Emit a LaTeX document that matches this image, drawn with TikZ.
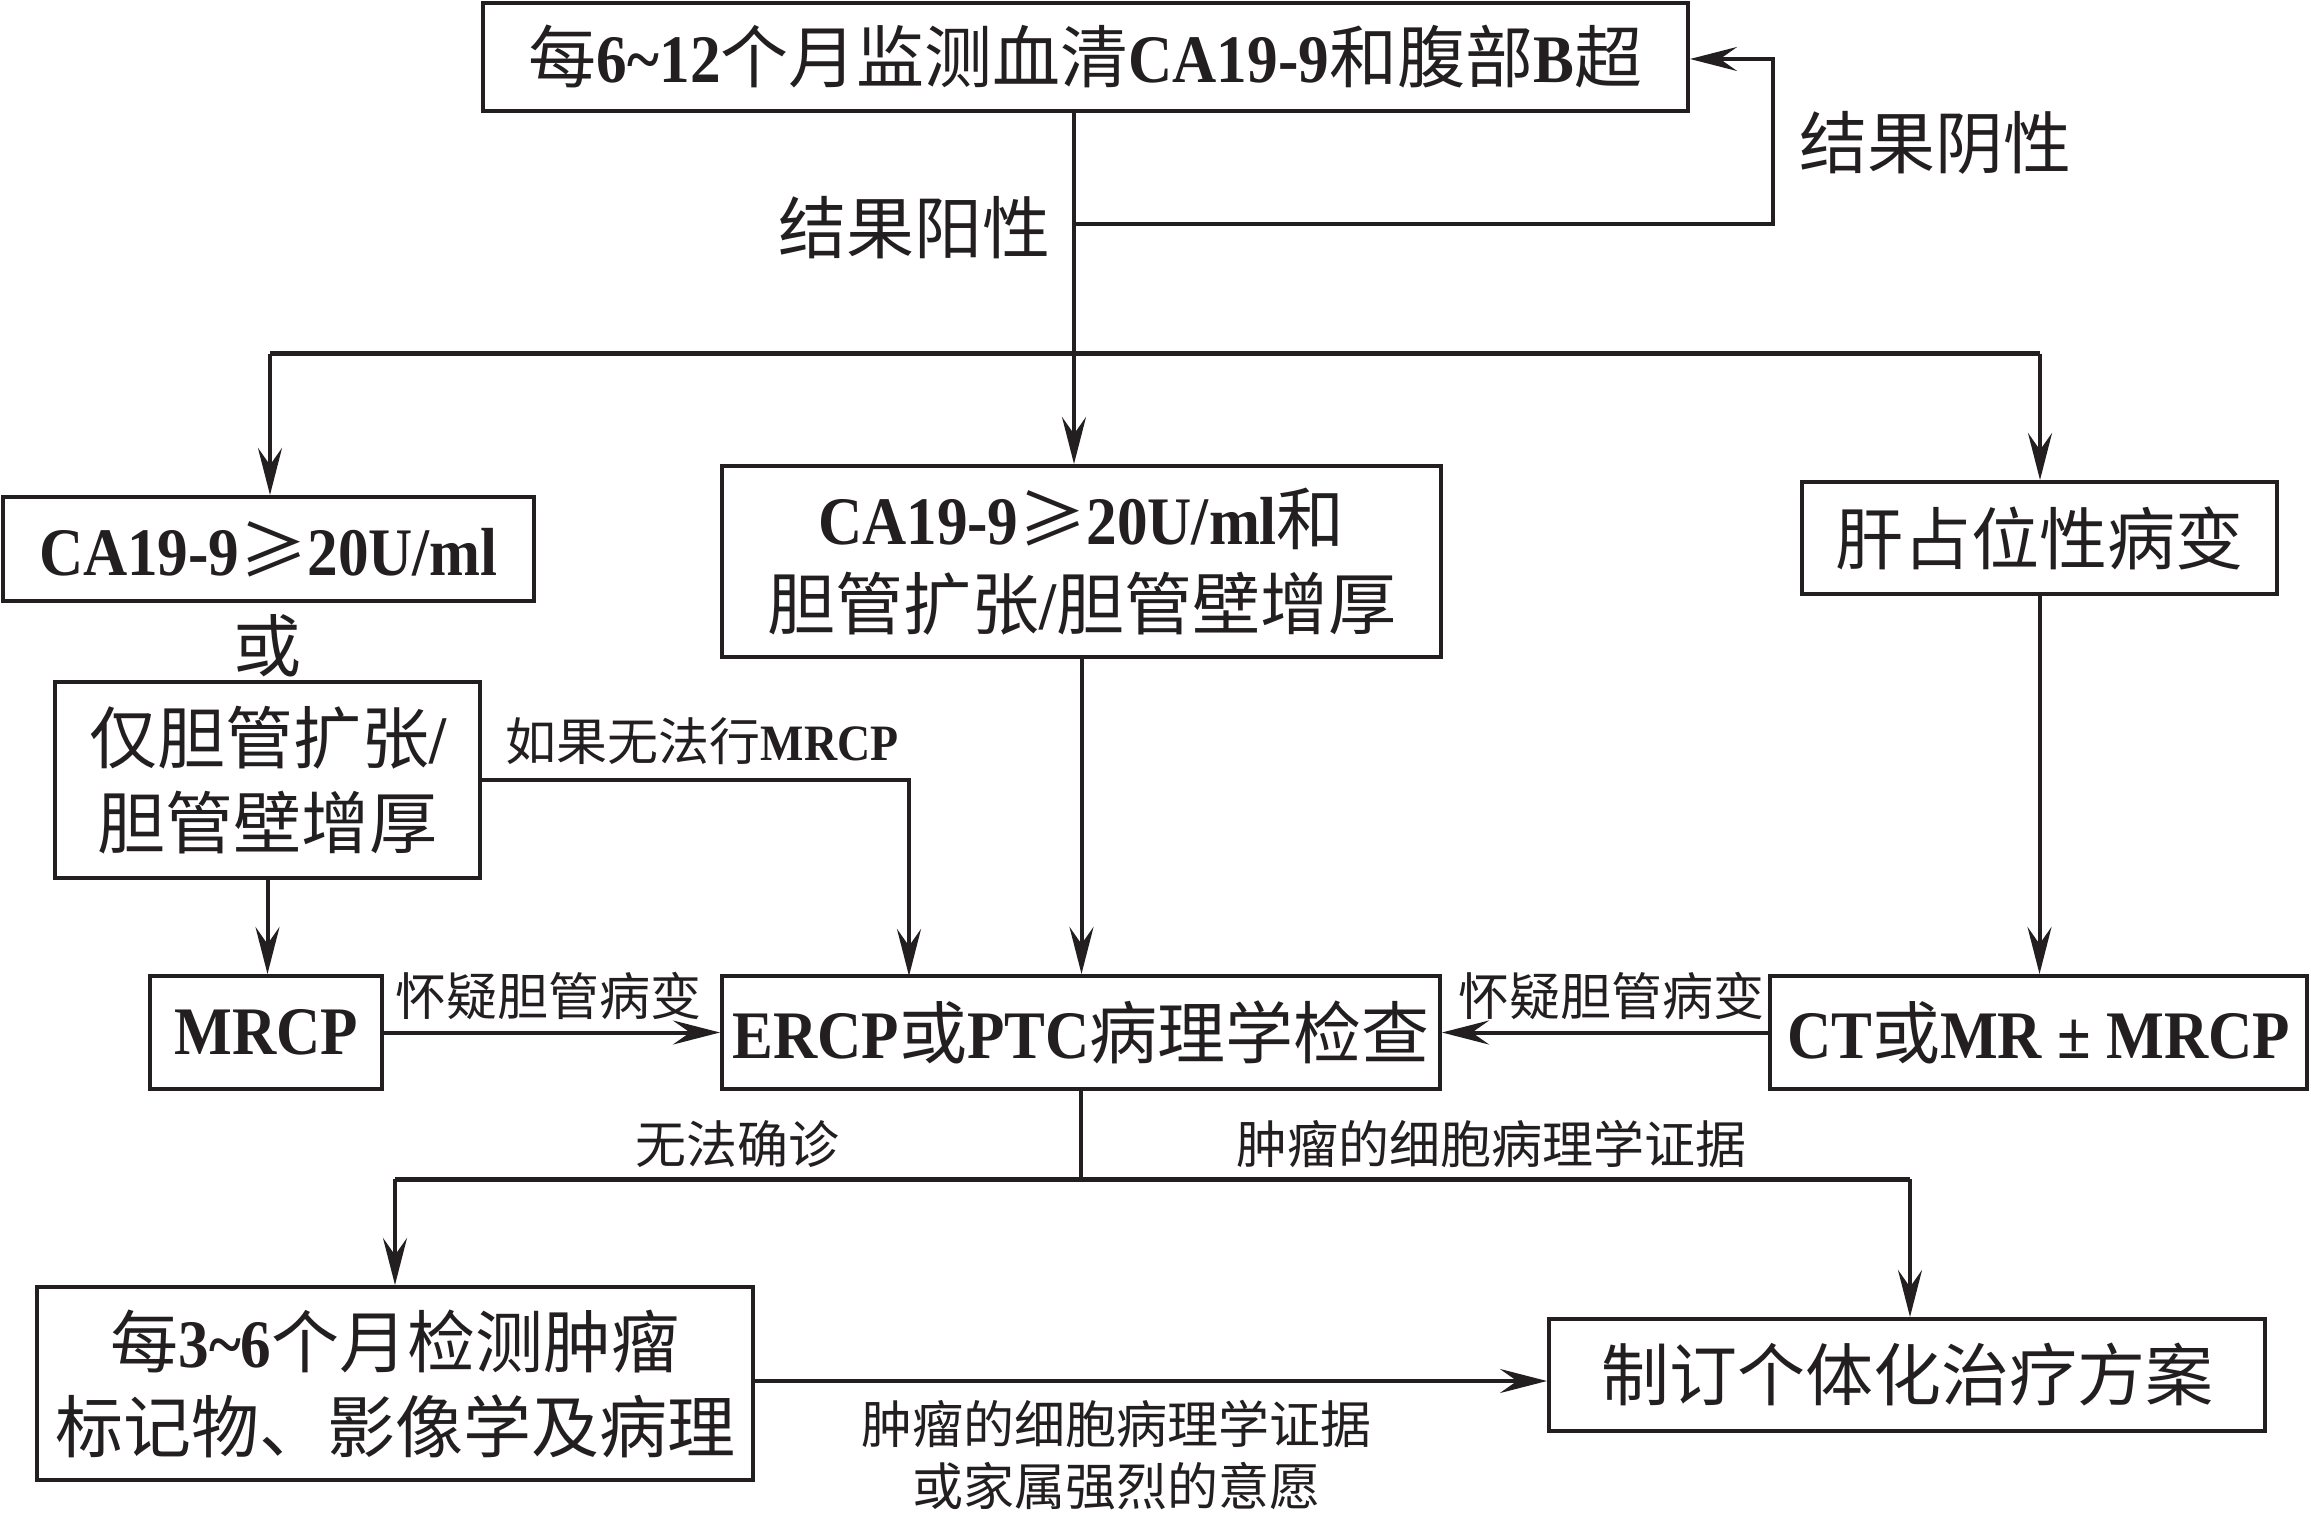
\documentclass[tikz,border=0pt]{standalone}
\usepackage{fontspec}
\setmainfont{Liberation Serif}[FakeStretch=0.9]
\newfontfamily\cjk{Noto Sans CJK SC}
\usetikzlibrary{arrows.meta}
\definecolor{ink}{RGB}{35,31,32}
\newcommand\Z[1]{{\cjk\mdseries #1}}
\begin{document}
\begin{tikzpicture}[x=0.5pt,y=-0.5pt,
  box/.style={draw=ink, line width=2pt, inner sep=0pt, align=center, text=ink,
    font=\bfseries\fontsize{34}{42.5}\selectfont},
  bigtxt/.style={text=ink, inner sep=0pt, font=\fontsize{34}{42}\selectfont},
  smalltxt/.style={text=ink, inner sep=0pt, align=center, font=\bfseries\fontsize{25.5}{31}\selectfont},
  conn/.style={draw=ink, line width=2pt},
  arr/.style={conn, -{Stealth[length=23.5pt, width=12pt, inset=8.5pt]}}]
\useasboundingbox (0,0) rectangle (2311,1513);
% boxes
\node[box, minimum width=602.5pt, minimum height=54pt] (top) at (1085.5,57)
  {\Z{每}6\textasciitilde12\Z{个月监测血清}CA19-9\Z{和腹部}B\Z{超}};
\node[box, minimum width=265.5pt, minimum height=52pt] (bA) at (268.5,549)
  {CA19-9\Z{≥}20U/ml};
\node[box, minimum width=212.5pt, minimum height=98pt] (bB) at (267.5,780)
  {\Z{仅胆管扩张}/\\\Z{胆管壁增厚}};
\node[box, minimum width=359.5pt, minimum height=95.5pt] (bC) at (1081.5,561.5)
  {CA19-9\Z{≥}20U/ml\Z{和}\\\Z{胆管扩张}/\Z{胆管壁增厚}};
\node[box, minimum width=237.5pt, minimum height=56pt] (bD) at (2039.5,538)
  {\Z{肝占位性病变}};
\node[box, minimum width=116pt, minimum height=56.5pt] (mrcp) at (266,1032.5)
  {MRCP};
\node[box, minimum width=359pt, minimum height=56.5pt] (ercp) at (1081,1032.5)
  {ERCP\Z{或}PTC\Z{病理学检查}};
\node[box, minimum width=268.5pt, minimum height=56.5pt] (ct) at (2038.5,1032.5)
  {CT\Z{或}MR ± MRCP};
\node[box, minimum width=358pt, minimum height=96.5pt] (bE) at (395,1383.5)
  {\Z{每}3\textasciitilde6\Z{个月检测肿瘤}\\\Z{标记物、影像学及病理}};
\node[box, minimum width=358pt, minimum height=56pt] (bF) at (1907,1375)
  {\Z{制订个体化治疗方案}};
% labels
\node[bigtxt] (lneg) at (1935,143) {\Z{结果阴性}};
\node[bigtxt] (lpos) at (914,228) {\Z{结果阳性}};
\node[bigtxt] (lor) at (267,646) {\Z{或}};
\node[smalltxt] (lnomrcp) at (702,741) {\Z{如果无法行}MRCP};
\node[smalltxt] (lsus1) at (548,996) {\Z{怀疑胆管病变}};
\node[smalltxt] (lsus2) at (1611,996) {\Z{怀疑胆管病变}};
\node[smalltxt] (lnodx) at (737,1144) {\Z{无法确诊}};
\node[smalltxt] (lcyto) at (1491,1144) {\Z{肿瘤的细胞病理学证据}};
\node[smalltxt] (lbot) at (1116,1455) {\Z{肿瘤的细胞病理学证据}\\\Z{或家属强烈的意愿}};
% junction coordinates
\coordinate (j1) at (1074,354);
\coordinate (jL) at (270,354);
\coordinate (jR) at (2040,354);
\coordinate (fb1) at (1074,224);
\coordinate (fb2) at (1773,224);
\coordinate (fb3) at (1773,59);
\coordinate (m1) at (909,976);
\coordinate (j2) at (1083,1179);
\coordinate (j2L) at (395,1179);
\coordinate (j2R) at (1910,1179);
\coordinate (f1) at (0,1381);
% connectors
\draw[conn] (top.south -| j1) -- (j1);
\draw[arr] (fb1) -- (fb2) -- (fb3) -- (fb3 -| top.east);
\draw[conn, line width=2.5pt] (jL) -- (jR);
\draw[arr] (jL) -- (jL |- bA.north);
\draw[arr] (j1) -- (j1 |- bC.north);
\draw[arr] (jR) -- (jR |- bD.north);
\draw[arr] (bB.south) -- (bB.south |- mrcp.north);
\draw[arr] (bB.east) -| (m1);
\draw[arr] (bC.south) -- (bC.south |- ercp.north);
\draw[arr] (bD.south) -- (bD.south |- ct.north);
\draw[arr] (mrcp.east) -- (ercp.west);
\draw[arr] (ct.west) -- (ercp.east);
\draw[conn] (ercp.south) -- (ercp.south |- j2);
\draw[conn, line width=2.5pt] (j2L) -- (j2R);
\draw[arr] (j2L) -- (j2L |- bE.north);
\draw[arr] (j2R) -- (j2R |- bF.north);
\draw[arr] (bE.east |- f1) -- (bF.west |- f1);
\end{tikzpicture}
\end{document}
